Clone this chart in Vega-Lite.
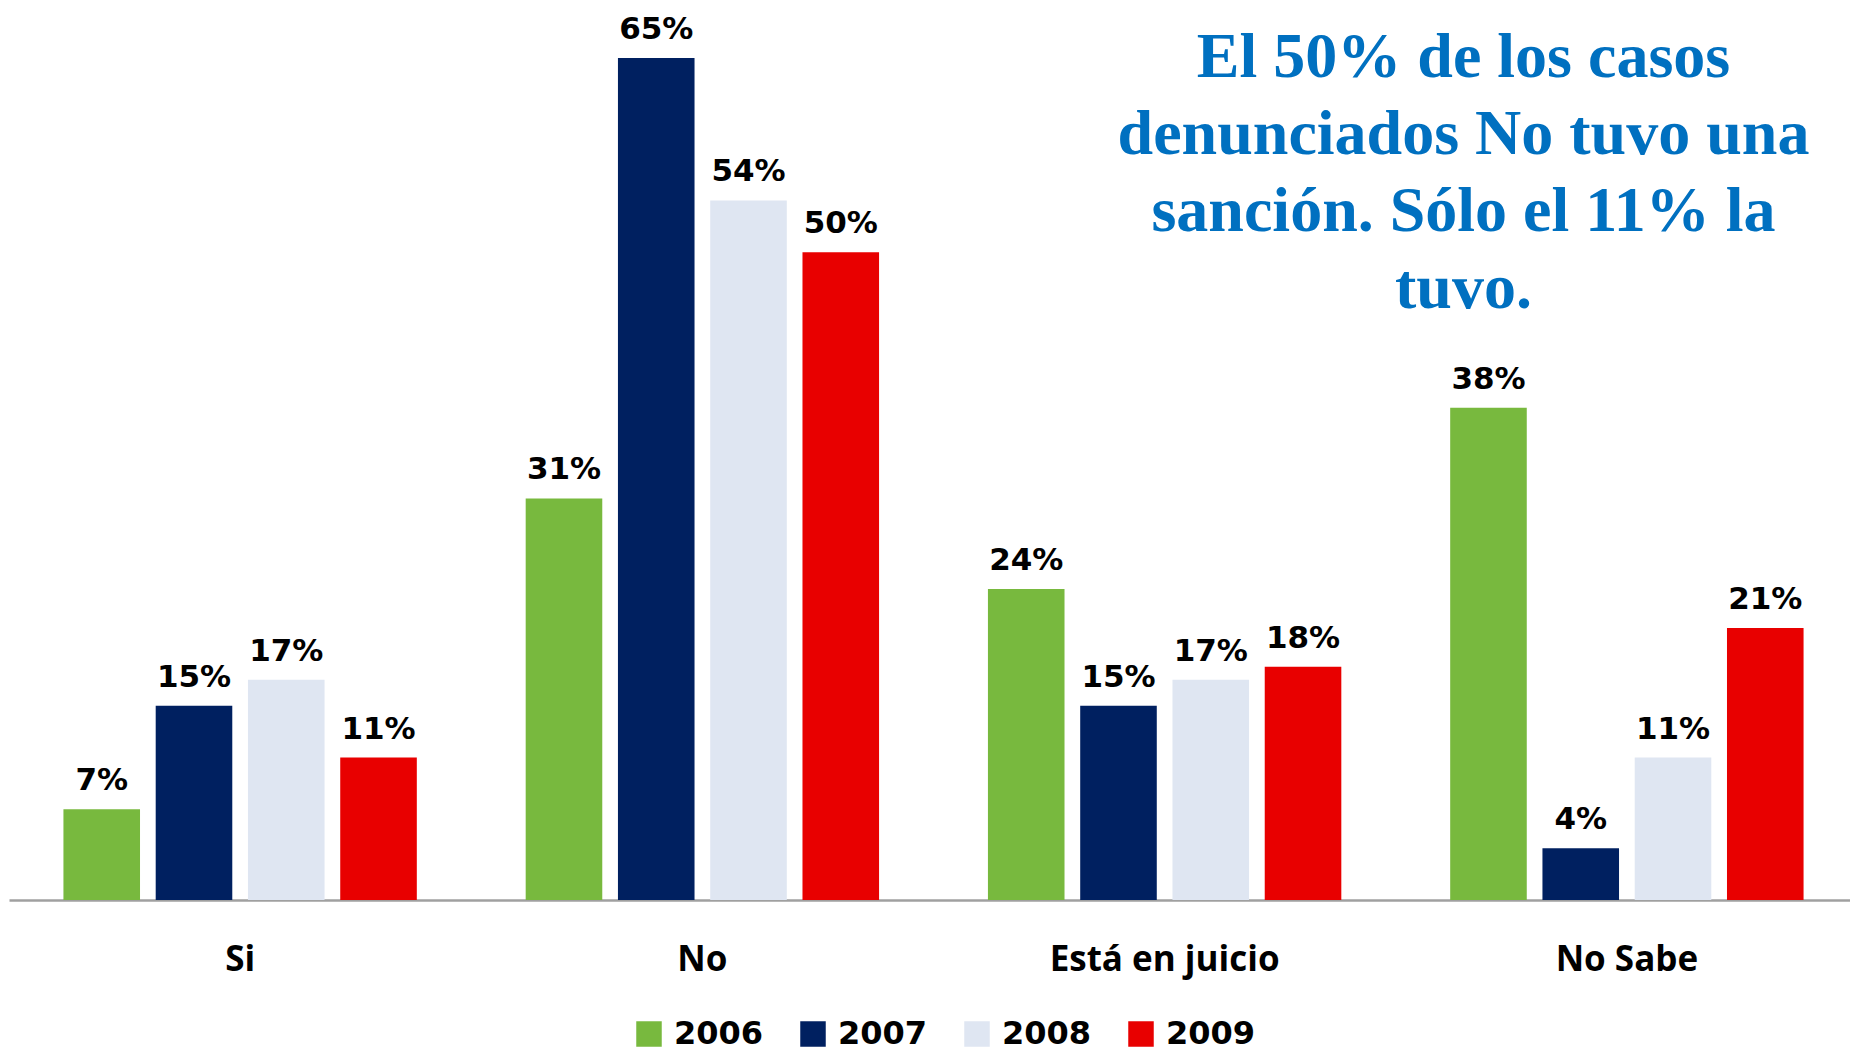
{
  "$schema": "https://vega.github.io/schema/vega-lite/v6.json",
  "autosize": {"type": "none"},
  "width": 1849,
  "height": 842,
  "padding": {"left": 9, "top": 58, "right": -8, "bottom": 151},
  "background": "white",
  "title": {
    "text": ["El 50% de los casos", "denunciados No tuvo una", "sanción. Sólo el 11% la", "tuvo."],
    "font": "Liberation Serif",
    "fontSize": 64,
    "fontWeight": "bold",
    "color": "#0070C0",
    "lineHeight": 77,
    "anchor": "middle",
    "frame": "group",
    "baseline": "alphabetic",
    "offset": 0,
    "dx": 530,
    "dy": 358
  },
  "data": {
    "values": [
      {"categoria": "Si", "anio": "2006", "valor": 0.07},
      {"categoria": "Si", "anio": "2007", "valor": 0.15},
      {"categoria": "Si", "anio": "2008", "valor": 0.17},
      {"categoria": "Si", "anio": "2009", "valor": 0.11},
      {"categoria": "No", "anio": "2006", "valor": 0.31},
      {"categoria": "No", "anio": "2007", "valor": 0.65},
      {"categoria": "No", "anio": "2008", "valor": 0.54},
      {"categoria": "No", "anio": "2009", "valor": 0.50},
      {"categoria": "Está en juicio", "anio": "2006", "valor": 0.24},
      {"categoria": "Está en juicio", "anio": "2007", "valor": 0.15},
      {"categoria": "Está en juicio", "anio": "2008", "valor": 0.17},
      {"categoria": "Está en juicio", "anio": "2009", "valor": 0.18},
      {"categoria": "No Sabe", "anio": "2006", "valor": 0.38},
      {"categoria": "No Sabe", "anio": "2007", "valor": 0.04},
      {"categoria": "No Sabe", "anio": "2008", "valor": 0.11},
      {"categoria": "No Sabe", "anio": "2009", "valor": 0.21}
    ]
  },
  "encoding": {
    "x": {
      "field": "categoria",
      "type": "nominal",
      "sort": ["Si", "No", "Está en juicio", "No Sabe"],
      "scale": {"paddingInner": 0, "paddingOuter": 0},
      "axis": {
        "title": null,
        "labelAngle": 0,
        "labelFont": "Open Sans",
        "labelFontSize": 35,
        "labelFontWeight": "bold",
        "labelColor": "#000000",
        "labelPadding": 42,
        "labelLimit": 600,
        "ticks": false,
        "tickSize": 0,
        "domainColor": "#a0a0a0",
        "domainWidth": 2.5,
        "grid": false
      }
    },
    "xOffset": {
      "field": "anio",
      "type": "nominal",
      "sort": ["2006", "2007", "2008", "2009"],
      "scale": {"paddingInner": 0.17, "paddingOuter": 0.59}
    },
    "y": {
      "field": "valor",
      "type": "quantitative",
      "scale": {"domain": [0, 0.65], "nice": false, "zero": true},
      "axis": null
    }
  },
  "layer": [
    {
      "mark": {"type": "bar"},
      "encoding": {
        "color": {
          "field": "anio",
          "type": "nominal",
          "sort": ["2006", "2007", "2008", "2009"],
          "scale": {
            "domain": ["2006", "2007", "2008", "2009"],
            "range": ["#78b93e", "#002060", "#dfe6f2", "#e80000"]
          },
          "legend": {
            "title": null,
            "orient": "none",
            "direction": "horizontal",
            "columns": 4,
            "legendX": 624,
            "legendY": 960,
            "padding": 0,
            "symbolType": "square",
            "symbolSize": 650,
            "symbolStrokeWidth": 0,
            "symbolOpacity": 1,
            "labelFont": "DejaVu Sans",
            "labelFontSize": 32,
            "labelFontWeight": "bold",
            "labelColor": "#000000",
            "labelOffset": 9,
            "columnPadding": 33,
            "labelLimit": 300
          }
        }
      }
    },
    {
      "mark": {
        "type": "text",
        "baseline": "alphabetic",
        "dy": -19,
        "font": "DejaVu Sans",
        "fontSize": 31,
        "fontWeight": "bold",
        "color": "#000000"
      },
      "encoding": {
        "text": {"field": "valor", "type": "quantitative", "format": ".0%"}
      }
    }
  ],
  "config": {
    "view": {"stroke": null}
  }
}
